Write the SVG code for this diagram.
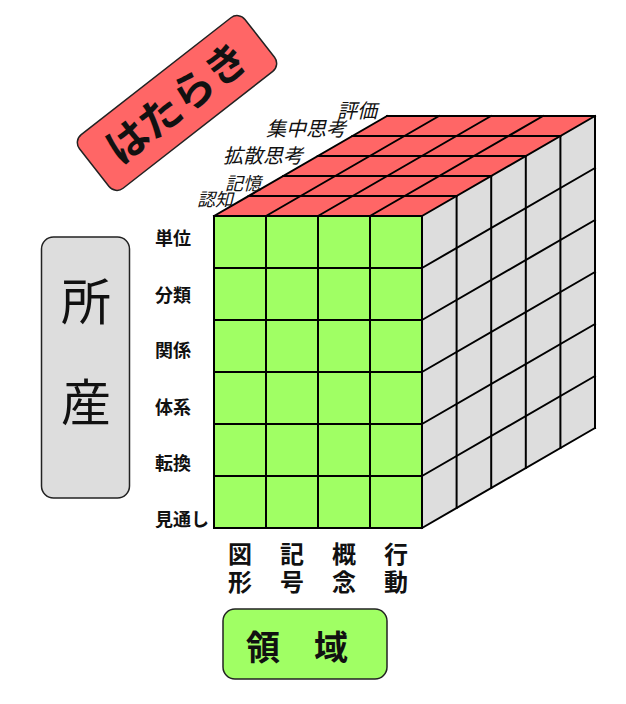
<svg xmlns="http://www.w3.org/2000/svg" width="626" height="704" viewBox="0 0 626 704">
<style>
.jp{font-family:"Noto Sans CJK JP","Noto Sans",sans-serif;fill:#111}
.row{font-size:18px;font-weight:bold}
.dep{font-size:20px;font-style:italic}
.col{font-size:24px;font-weight:bold;writing-mode:vertical-rl;letter-spacing:4px}
.grid{stroke:#000;stroke-width:2;fill:none;stroke-linecap:square}
.box{stroke:#222;stroke-width:1.5}
</style>
<rect width="626" height="704" fill="#fff"/>
<g id="cube">
<polygon points="214,216 422,216 595,116 387,116" fill="#FF6666"/>
<polygon points="422,216 595,116 595,428 422,528" fill="#DDDDDD"/>
<rect x="214" y="216" width="208" height="312" fill="#A0FF64"/>
<g class="grid">
<rect x="214" y="216" width="208" height="312"/>
<path d="M266,216V528M318,216V528M370,216V528M214,268H422M214,320H422M214,372H422M214,424H422M214,476H422"/>
<path d="M248.6,196H456.6M283.2,176H491.2M317.8,156H525.8M352.4,136H560.4M387,116H595"/>
<path d="M214,216L387,116M266,216L439,116M318,216L491,116M370,216L543,116M422,216L595,116"/>
<path d="M456.6,196V508M491.2,176V488M525.8,156V468M560.4,136V448M595,116V428"/>
<path d="M422,268L595,168M422,320L595,220M422,372L595,272M422,424L595,324M422,476L595,376M422,528L595,428"/>
</g>
</g>
<g id="row-labels" class="jp row">
<text x="155" y="245">単位</text>
<text x="155" y="302">分類</text>
<text x="155" y="357">関係</text>
<text x="155" y="414">体系</text>
<text x="155" y="470">転換</text>
<text x="155" y="526">見通し</text>
</g>
<g id="depth-labels" class="jp dep">
<text x="197" y="206" font-size="18">認知</text>
<text x="225" y="190" font-size="18">記憶</text>
<text x="223" y="163">拡散思考</text>
<text x="266" y="136">集中思考</text>
<text x="337" y="118">評価</text>
</g>
<g id="col-labels" class="jp col">
<text x="240" y="542">図形</text>
<text x="292" y="542">記号</text>
<text x="344" y="542">概念</text>
<text x="396" y="542">行動</text>
</g>
<g id="hataraki" transform="translate(177,103) rotate(-38)">
<rect class="box" x="-105" y="-34" width="210" height="68" rx="10" fill="#FF6666"/>
<text class="jp" x="0" y="15" font-size="42" font-weight="bold" text-anchor="middle">はたらき</text>
</g>
<g id="shosan">
<rect class="box" x="41.5" y="237" width="88" height="261" rx="12" fill="#DDDDDD"/>
<text class="jp" x="86" y="320" font-size="50" text-anchor="middle">所</text>
<text class="jp" x="86" y="421" font-size="50" text-anchor="middle">産</text>
</g>
<g id="ryoiki">
<rect class="box" x="223" y="609" width="164" height="70" rx="12" fill="#A0FF64"/>
<text class="jp" x="297" y="660" font-size="34" font-weight="bold" text-anchor="middle">領　域</text>
</g>
</svg>
